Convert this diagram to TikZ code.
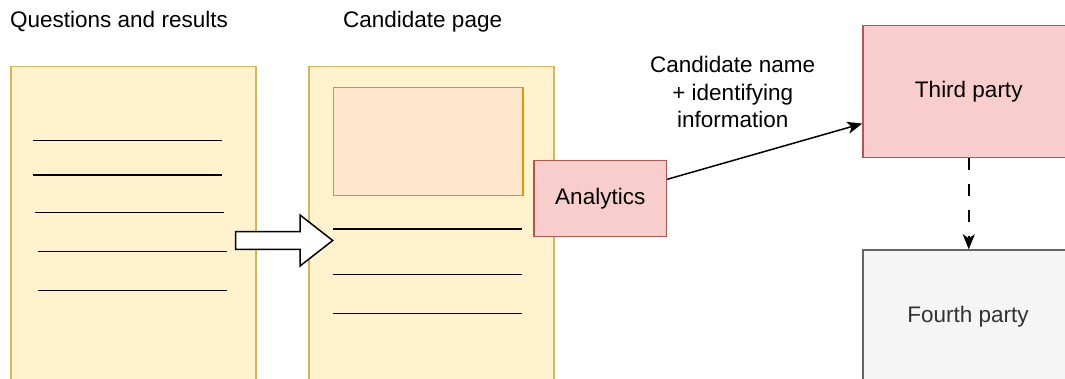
\documentclass[tikz,border=0pt]{standalone}
\usepackage{fontspec}
\setmainfont{Liberation Sans}
\usetikzlibrary{arrows.meta,calc}
\definecolor{docfill}{HTML}{FFF2CC}
\definecolor{docline}{HTML}{D6B656}
\definecolor{imgfill}{HTML}{FFE6CC}
\definecolor{imgline}{HTML}{D79B00}
\definecolor{redfill}{HTML}{F8CECC}
\definecolor{redline}{HTML}{B85450}
\definecolor{greyfill}{HTML}{F5F5F5}
\definecolor{greyline}{HTML}{666666}
\definecolor{greytext}{HTML}{333333}
\tikzset{
  txt/.style={font=\fontsize{22.5}{27.5}\selectfont, inner sep=0pt},
  page/.style={draw=docline, fill=docfill, line width=1.5pt, anchor=north west, inner sep=0pt},
  rule/.style={line width=1.5pt, draw=black},
  redbox/.style={draw=redline, fill=redfill, line width=1.5pt, anchor=north west, inner sep=0pt, txt},
  greybox/.style={draw=greyline, fill=greyfill, line width=1.5pt, anchor=north west, inner sep=0pt, txt, text=greytext},
  flow/.style={line width=1.5pt, -{Stealth[length=15pt,width=12pt,inset=4pt]}},
}
\begin{document}
\begin{tikzpicture}[x=1pt,y=-1pt]
\useasboundingbox (0,0) rectangle (1065,379);
\clip (0,0) rectangle (1065,379);

% column titles
\node[txt, anchor=base west] (qtitle) at (10,27.5) {Questions and results};
\node[txt, anchor=base west] (ctitle) at (343,27.5) {Candidate page};

% questions and results page
\node[page, minimum width=245pt, minimum height=340pt] (qpage) at (10,65.7) {};
\draw[rule] (33,140.7) -- (222,140.7);
\draw[rule] (33,175) -- (222,175);
\draw[rule] (35,212.3) -- (224,212.3);
\draw[rule] (38,251.7) -- (227,251.7);
\draw[rule] (38,290.7) -- (227,290.7);

% candidate page with header image and text lines
\node[page, minimum width=245pt, minimum height=340pt] (cpage) at (308.3,65.7) {};
\node[draw=imgline, fill=imgfill, line width=1.5pt, anchor=north west, inner sep=0pt,
      minimum width=189.6pt, minimum height=108.3pt] (cimg) at (332.7,86.7) {};
\draw[rule] (333,229) -- (522,229);
\draw[rule] (333,274.3) -- (522,274.3);
\draw[rule] (333,313.3) -- (522,313.3);

% hollow block arrow between the pages
\draw[line width=1.5pt, fill=white, line join=miter]
  (235.7,231.7) -- (300,231.7) -- (300,215) -- (332.7,240.5)
  -- (300,266) -- (300,249.3) -- (235.7,249.3) -- cycle;

% analytics widget
\node[redbox, minimum width=132.4pt, minimum height=75.7pt] (an) at (533.3,160) {Analytics};

% parties
\node[redbox, minimum width=211.4pt, minimum height=131.7pt] (third) at (862.3,25) {Third party};
\node[greybox, minimum width=211.4pt, minimum height=160pt] (fourth) at (862.3,249.3) {};
\node[txt, text=greytext] (fourthlabel) at (968,317) {Fourth party};

% data flow
\draw[flow] ($(an.north east)!0.25!(an.south east)$) -- ($(third.north west)!0.74!(third.south west)$);
\node[txt, align=center] (flowlabel) at (732.7,92) {Candidate name\\+ identifying\\information};
\draw[flow, dash pattern=on 12pt off 14pt] (third.south) -- (fourth.north);
\end{tikzpicture}
\end{document}
